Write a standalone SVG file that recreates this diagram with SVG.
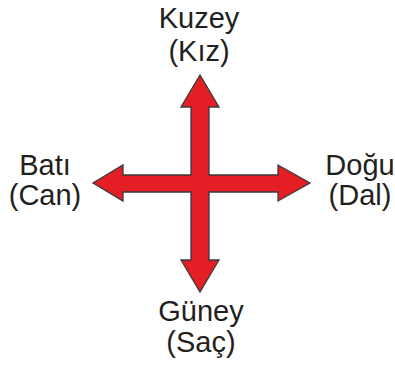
<svg xmlns="http://www.w3.org/2000/svg" width="395" height="365" viewBox="0 0 395 365">
<style>
text{font-family:"Liberation Sans",Arial,sans-serif;font-size:29px;fill:#231f20;text-anchor:middle}
.arrow{fill:#e31e25;stroke:#3a3a3a;stroke-width:1.3;stroke-linejoin:miter}
</style>
<rect width="395" height="365" fill="#ffffff"/>
<g id="connectors">
<polygon class="arrow" points="200,75 219,107 209,107 209,175 278,175 278,165 310,183 278,201 278,192 209,192 209,260 219,260 200,292 181,260 191,260 191,192 123,192 123,201 93,183 123,165 123,175 191,175 191,107 181,107"/>
</g>
<g id="north"><text x="199" y="28">Kuzey</text><text x="199" y="61">(Kız)</text></g>
<g id="west"><text x="45" y="175">Batı</text><text x="45" y="205">(Can)</text></g>
<g id="east"><text x="360" y="175">Doğu</text><text x="360" y="205">(Dal)</text></g>
<g id="south"><text x="201" y="321">Güney</text><text x="201" y="352">(Saç)</text></g>
</svg>
